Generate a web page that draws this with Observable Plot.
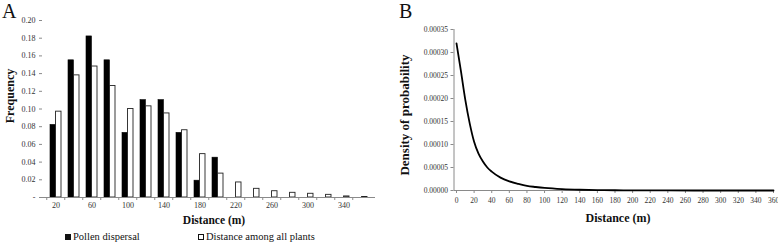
<!DOCTYPE html>
<html>
<head>
<meta charset="utf-8">
<script src="https://cdn.jsdelivr.net/npm/d3@7"></script>
<script src="https://cdn.jsdelivr.net/npm/@observablehq/plot@0.6"></script>
<style>
  html, body { margin: 0; padding: 0; background: #fff; }
  #wrap { position: relative; width: 778px; height: 246px; overflow: hidden; font-family: "Liberation Serif", "Times New Roman", serif; color: #111; }
  .panel { position: absolute; top: 0; }
  .letter { position: absolute; top: 0px; font-size: 20px; line-height: 22px; font-family: "Liberation Serif", serif; }
  #legend { position: absolute; left: 0; top: 231px; width: 400px; height: 15px; font-size: 10.5px; }
  #legend .item { position: absolute; top: 0; white-space: nowrap; }
  #legend .sw { display: inline-block; width: 6px; height: 6px; margin-right: 2px; vertical-align: 0px; box-sizing: border-box; border: 1px solid #111; }
</style>
</head>
<body>
<div id="wrap">
  <div class="letter" style="left:2px">A</div>
  <div class="letter" style="left:399px">B</div>
  <div id="panelA" class="panel" style="left:0px"></div>
  <div id="panelB" class="panel" style="left:400px"></div>
  <div id="legend">
    <span class="item" style="left:65px"><span class="sw" style="background:#111"></span>Pollen dispersal</span>
    <span class="item" style="left:198px"><span class="sw" style="background:#fff"></span>Distance among all plants</span>
  </div>
</div>
<script>
// ---- Panel A data ----
const categories = [20, 40, 60, 80, 100, 120, 140, 160, 180, 200, 220, 240, 260, 280, 300, 320, 340, 360];
const pollenDispersal = [0.082, 0.155, 0.182, 0.155, 0.073, 0.110, 0.110, 0.073, 0.019, 0.045, 0, 0, 0, 0, 0, 0, 0, 0];
const distanceAllPlants = [0.097, 0.138, 0.148, 0.126, 0.100, 0.103, 0.095, 0.076, 0.049, 0.027, 0.017, 0.0098, 0.0071, 0.0053, 0.0042, 0.003, 0.0012, 0.0006];
const xTickLabelsA = [20, 60, 100, 140, 180, 220, 260, 300, 340];
const yTicksA = [0, 0.02, 0.04, 0.06, 0.08, 0.10, 0.12, 0.14, 0.16, 0.18, 0.20];

// ---- Panel B data ----
const densityDistance = [0, 5, 10, 15, 20, 25, 30, 35, 40, 50, 60, 70, 80, 90, 100, 120, 140, 160, 180, 200, 240, 300, 360];
const densityValue = [0.00032, 0.00026, 0.000197, 0.000146, 0.000106, 0.000080, 0.000063, 0.00005, 0.000041, 0.000028, 0.000020, 0.0000145, 0.000010, 0.0000076, 0.0000056, 0.000003, 0.0000016, 0.0000009, 0.0000005, 0.0000003, 0.0000001, 0.00000003, 0.00000001];
const xTicksB = [0, 20, 40, 60, 80, 100, 120, 140, 160, 180, 200, 220, 240, 260, 280, 300, 320, 340, 360];
const yTicksB = [0, 0.00005, 0.0001, 0.00015, 0.0002, 0.00025, 0.0003, 0.00035];

const pollenRows = categories.map((d, i) => ({d, v: pollenDispersal[i]}));
const allRows = categories.map((d, i) => ({d, v: distanceAllPlants[i]}));
const curveRows = densityDistance.map((d, i) => ({d, v: densityValue[i]}));

const axisGray = "#8a8a8a";
const labelColor = "#333";
const font = "Liberation Serif";

const plotA = Plot.plot({
  width: 395, height: 232,
  marginLeft: 42, marginRight: 20, marginTop: 20, marginBottom: 35,
  style: {fontFamily: font, fontSize: "8px", color: labelColor, background: "transparent", overflow: "visible"},
  x: {type: "band", domain: categories, paddingInner: 0.4, paddingOuter: 0.2, axis: null},
  y: {domain: [0, 0.2], axis: null},
  marks: [
    Plot.barY(pollenRows, {x: "d", y: "v", fill: "#000", stroke: "#000", strokeWidth: 0.6, insetRight: 5.55}),
    Plot.barY(allRows, {x: "d", y: "v", fill: "#fff", stroke: "#222", strokeWidth: 0.9, insetLeft: 5.55}),
    Plot.ruleX([0], {frameAnchor: "left", stroke: axisGray}),
    Plot.ruleY([0], {stroke: axisGray}),
    Plot.axisY({ticks: yTicksA, tickSize: 3, tickPadding: 4, stroke: axisGray, label: null,
      tickFormat: d => d === 0 ? "-" : d.toFixed(2)}),
    Plot.axisX({ticks: categories, tickSize: 3, tickFormat: () => "", dx: -9.25, stroke: axisGray, label: null}),
    Plot.axisX({ticks: xTickLabelsA, tickSize: 0, tickPadding: 5, label: null}),
    Plot.text(["Frequency"], {frameAnchor: "left", textAnchor: "middle", dx: -32, dy: -13, rotate: -90, fontWeight: "bold", fontSize: 12, fill: "#111"}),
    Plot.text(["Distance (m)"], {frameAnchor: "bottom", dx: 5, dy: 26, fontWeight: "bold", fontSize: 11.5, fill: "#111"})
  ]
});
document.getElementById("panelA").appendChild(plotA);

const plotB = Plot.plot({
  width: 378, height: 232,
  marginLeft: 56, marginRight: 5, marginTop: 29, marginBottom: 42,
  style: {fontFamily: font, fontSize: "7.5px", color: labelColor, background: "transparent", overflow: "visible"},
  x: {domain: [0, 360], axis: null},
  y: {domain: [0, 0.00035], axis: null},
  marks: [
    Plot.ruleX([0], {dx: -2.5, stroke: axisGray}),
    Plot.ruleY([0], {stroke: axisGray, dx: -1.25, insetLeft: -1.25}),
    Plot.axisY({ticks: yTicksB, tickSize: 3, tickPadding: 3, dx: -2.5, stroke: axisGray, label: null,
      tickFormat: d => d.toFixed(5)}),
    Plot.axisX({ticks: xTicksB, tickSize: 3, tickPadding: 4, stroke: axisGray, label: null, tickFormat: d => String(d)}),
    Plot.line(curveRows, {x: "d", y: "v", stroke: "#000", strokeWidth: 1.8, curve: "monotone-x"}),
    Plot.text(["Density of probability"], {frameAnchor: "left", textAnchor: "middle", dx: -52, dy: 5, rotate: -90, fontWeight: "bold", fontSize: 13, fill: "#111"}),
    Plot.text(["Distance (m)"], {frameAnchor: "bottom", dx: 3, dy: 31, fontWeight: "bold", fontSize: 12, fill: "#111"})
  ]
});
document.getElementById("panelB").appendChild(plotB);
</script>
</body>
</html>
